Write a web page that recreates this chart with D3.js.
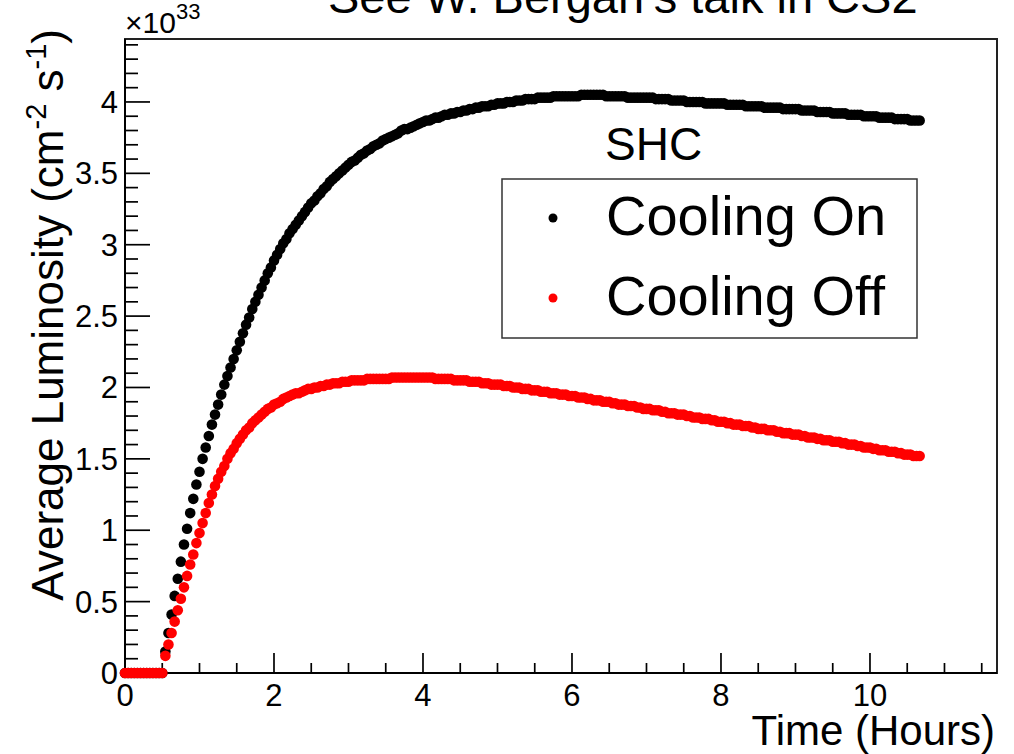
<!DOCTYPE html>
<html>
<head>
<meta charset="utf-8">
<script src="https://cdn.jsdelivr.net/npm/d3@7"></script>
<style>
  body { margin: 0; background: #fff; }
  svg { display: block; font-family: "Liberation Sans", Arial, Helvetica, sans-serif; }
</style>
</head>
<body>
<svg id="chart" width="1014" height="754"></svg>
<script>
// sampling: one point every 2.5 minutes, 0 .. 10h40
var stepHours = 2.5 / 60;

// Average luminosity, units of 1e33 cm^-2 s^-1
var coolingOn = [
  0, 0, 0, 0, 0, 0, 0, 0, 0, 0, 0, 0,
  0, 0.15, 0.28, 0.41, 0.54, 0.66, 0.78, 0.90, 1.01, 1.12, 1.22, 1.32,
  1.41, 1.50, 1.58, 1.66, 1.74, 1.81, 1.88, 1.95, 2.02, 2.08, 2.14, 2.20,
  2.26, 2.32, 2.38, 2.44, 2.49, 2.55, 2.60, 2.65, 2.70, 2.75, 2.80, 2.84,
  2.89, 2.93, 2.97, 3.01, 3.04, 3.08, 3.11, 3.14, 3.17, 3.20, 3.23, 3.26,
  3.29, 3.31, 3.34, 3.36, 3.39, 3.41, 3.44, 3.46, 3.48, 3.50, 3.52, 3.54,
  3.56, 3.58, 3.59, 3.61, 3.63, 3.64, 3.66, 3.67, 3.69, 3.70, 3.71, 3.73,
  3.74, 3.75, 3.76, 3.77, 3.78, 3.80, 3.81, 3.81, 3.82, 3.83, 3.84, 3.85,
  3.86, 3.87, 3.87, 3.88, 3.89, 3.89, 3.90, 3.91, 3.91, 3.92, 3.92, 3.93,
  3.93, 3.94, 3.94, 3.95, 3.95, 3.96, 3.96, 3.97, 3.97, 3.97, 3.98, 3.98,
  3.99, 3.99, 3.99, 4.00, 4.00, 4.00, 4.01, 4.01, 4.01, 4.02, 4.02, 4.02,
  4.02, 4.03, 4.03, 4.03, 4.03, 4.03, 4.04, 4.04, 4.04, 4.04, 4.04, 4.04,
  4.04, 4.04, 4.04, 4.05, 4.05, 4.05, 4.05, 4.05, 4.05, 4.05, 4.05, 4.04,
  4.04, 4.04, 4.04, 4.04, 4.04, 4.04, 4.03, 4.03, 4.03, 4.03, 4.03, 4.03,
  4.03, 4.03, 4.03, 4.02, 4.02, 4.02, 4.02, 4.02, 4.01, 4.01, 4.01, 4.01,
  4.01, 4.00, 4.00, 4.00, 4.00, 4.00, 4.00, 3.99, 3.99, 3.99, 3.99, 3.99,
  3.99, 3.99, 3.98, 3.98, 3.98, 3.98, 3.98, 3.98, 3.97, 3.97, 3.97, 3.97,
  3.97, 3.97, 3.96, 3.96, 3.96, 3.96, 3.96, 3.96, 3.95, 3.95, 3.95, 3.95,
  3.95, 3.95, 3.94, 3.94, 3.94, 3.94, 3.94, 3.93, 3.93, 3.93, 3.93, 3.93,
  3.92, 3.92, 3.92, 3.92, 3.92, 3.91, 3.91, 3.91, 3.91, 3.91, 3.90, 3.90,
  3.90, 3.90, 3.90, 3.89, 3.89, 3.89, 3.89, 3.89, 3.88, 3.88, 3.88, 3.88,
  3.88, 3.87, 3.87, 3.87, 3.87
];

var coolingOff = [
  0, 0, 0, 0, 0, 0, 0, 0, 0, 0, 0, 0,
  0, 0.12, 0.20, 0.28, 0.36, 0.44, 0.52, 0.60, 0.68, 0.76, 0.83, 0.91,
  0.98, 1.05, 1.12, 1.19, 1.25, 1.31, 1.36, 1.41, 1.45, 1.50, 1.54, 1.57,
  1.61, 1.64, 1.67, 1.70, 1.72, 1.75, 1.77, 1.79, 1.81, 1.83, 1.85, 1.86,
  1.88, 1.89, 1.90, 1.92, 1.93, 1.94, 1.95, 1.96, 1.96, 1.97, 1.98, 1.99,
  1.99, 2.00, 2.00, 2.01, 2.01, 2.02, 2.02, 2.03, 2.03, 2.03, 2.04, 2.04,
  2.04, 2.05, 2.05, 2.05, 2.05, 2.05, 2.06, 2.06, 2.06, 2.06, 2.06, 2.06,
  2.06, 2.06, 2.07, 2.07, 2.07, 2.07, 2.07, 2.07, 2.07, 2.07, 2.07, 2.07,
  2.07, 2.07, 2.07, 2.07, 2.06, 2.06, 2.06, 2.06, 2.06, 2.06, 2.05, 2.05,
  2.05, 2.05, 2.05, 2.04, 2.04, 2.04, 2.04, 2.03, 2.03, 2.03, 2.02, 2.02,
  2.02, 2.02, 2.01, 2.01, 2.01, 2.00, 2.00, 2.00, 1.99, 1.99, 1.99, 1.98,
  1.98, 1.98, 1.97, 1.97, 1.97, 1.96, 1.96, 1.96, 1.95, 1.95, 1.95, 1.94,
  1.94, 1.94, 1.93, 1.93, 1.93, 1.92, 1.92, 1.91, 1.91, 1.91, 1.90, 1.90,
  1.90, 1.89, 1.89, 1.88, 1.88, 1.88, 1.87, 1.87, 1.87, 1.86, 1.86, 1.85,
  1.85, 1.85, 1.84, 1.84, 1.84, 1.83, 1.83, 1.82, 1.82, 1.82, 1.81, 1.81,
  1.81, 1.80, 1.80, 1.79, 1.79, 1.79, 1.78, 1.78, 1.78, 1.77, 1.77, 1.76,
  1.76, 1.76, 1.75, 1.75, 1.74, 1.74, 1.74, 1.73, 1.73, 1.73, 1.72, 1.72,
  1.71, 1.71, 1.71, 1.70, 1.70, 1.70, 1.69, 1.69, 1.68, 1.68, 1.68, 1.67,
  1.67, 1.67, 1.66, 1.66, 1.65, 1.65, 1.65, 1.64, 1.64, 1.63, 1.63, 1.63,
  1.62, 1.62, 1.62, 1.61, 1.61, 1.60, 1.60, 1.60, 1.59, 1.59, 1.58, 1.58,
  1.58, 1.57, 1.57, 1.56, 1.56, 1.56, 1.55, 1.55, 1.55, 1.54, 1.54, 1.53,
  1.53, 1.53, 1.52, 1.52, 1.52
];

var xMajorTicks = [0, 2, 4, 6, 8, 10];
var xMinorTicks = [0.5, 1, 1.5, 2.5, 3, 3.5, 4.5, 5, 5.5, 6.5, 7, 7.5, 8.5, 9, 9.5, 10.5, 11, 11.5];
var yMajorTicks = [0, 0.5, 1, 1.5, 2, 2.5, 3, 3.5, 4];
var yMinorTicks = [0.1, 0.2, 0.3, 0.4, 0.6, 0.7, 0.8, 0.9, 1.1, 1.2, 1.3, 1.4, 1.6, 1.7, 1.8, 1.9,
                   2.1, 2.2, 2.3, 2.4, 2.6, 2.7, 2.8, 2.9, 3.1, 3.2, 3.3, 3.4, 3.6, 3.7, 3.8, 3.9,
                   4.1, 4.2, 4.3, 4.4];

var seriesNames = ["Cooling On", "Cooling Off"];
var seriesColors = ["#000000", "#ff0000"];

// frame in pixels
var frame = { left: 125, right: 997, top: 39, bottom: 673 };

var svg = d3.select("#chart");

var x = d3.scaleLinear()
  .domain([0, 11.705])
  .range([frame.left, frame.right]);

var y = d3.scaleLinear()
  .domain([0, 4.441])
  .range([frame.bottom, frame.top]);

// title, mostly cut off by the top of the picture
svg.append("text")
  .attr("x", 328)
  .attr("y", 13)
  .attr("font-size", 47)
  .text("See W. Bergan\u2019s talk in CS2");

// frame box
svg.append("rect")
  .attr("x", frame.left)
  .attr("y", frame.top)
  .attr("width", frame.right - frame.left)
  .attr("height", frame.bottom - frame.top)
  .attr("fill", "none")
  .attr("stroke", "#222")
  .attr("stroke-width", 2);

// ticks point into the frame, ROOT style
function tickLines(values, len, horizontal) {
  svg.append("g")
    .attr("stroke", "#000")
    .attr("stroke-width", 1.7)
    .selectAll("line")
    .data(values)
    .join("line")
    .attr("x1", function(d) { return horizontal ? x(d) : frame.left; })
    .attr("x2", function(d) { return horizontal ? x(d) : frame.left + len; })
    .attr("y1", function(d) { return horizontal ? frame.bottom : y(d); })
    .attr("y2", function(d) { return horizontal ? frame.bottom - len : y(d); });
}
tickLines(xMinorTicks, 10, true);
tickLines(xMajorTicks, 20, true);
tickLines(yMinorTicks, 13, false);
tickLines(yMajorTicks, 25, false);

// axis lines
svg.append("line")
  .attr("x1", frame.left).attr("x2", frame.right)
  .attr("y1", frame.bottom).attr("y2", frame.bottom)
  .attr("stroke", "#000").attr("stroke-width", 2);
svg.append("line")
  .attr("x1", frame.left).attr("x2", frame.left)
  .attr("y1", frame.top).attr("y2", frame.bottom)
  .attr("stroke", "#000").attr("stroke-width", 2);

// tick labels
svg.append("g")
  .attr("font-size", 31)
  .attr("text-anchor", "middle")
  .selectAll("text")
  .data(xMajorTicks)
  .join("text")
  .attr("x", function(d) { return x(d); })
  .attr("y", 706)
  .text(function(d) { return String(d); });

svg.append("g")
  .attr("font-size", 31)
  .attr("text-anchor", "end")
  .selectAll("text")
  .data(yMajorTicks)
  .join("text")
  .attr("x", 118)
  .attr("y", function(d) { return y(d) + 11; })
  .text(function(d) { return String(d); });

// exponent label
var expo = svg.append("text").attr("x", frame.left).attr("y", 33).attr("font-size", 30);
expo.append("tspan").text("\u00d710");
expo.append("tspan").attr("font-size", 22).attr("dy", -14).text("33");

// axis titles
svg.append("text")
  .attr("x", 995)
  .attr("y", 745)
  .attr("text-anchor", "end")
  .attr("font-size", 42)
  .text("Time (Hours)");

var ytitle = svg.append("text")
  .attr("transform", "translate(63,29) rotate(-90)")
  .attr("text-anchor", "end")
  .attr("font-size", 44);
ytitle.append("tspan").text("Average Luminosity (cm");
ytitle.append("tspan").attr("font-size", 29).attr("dy", -17).text("-2");
ytitle.append("tspan").attr("dy", 17).text(" s");
ytitle.append("tspan").attr("font-size", 29).attr("dy", -17).text("-1");
ytitle.append("tspan").attr("dy", 17).text(")");

// points
[coolingOn, coolingOff].forEach(function(values, k) {
  svg.append("g")
    .attr("fill", seriesColors[k])
    .selectAll("circle")
    .data(values)
    .join("circle")
    .attr("cx", function(d, i) { return x(i * stepHours); })
    .attr("cy", function(d) { return y(d); })
    .attr("r", 5.3);
});

// legend
svg.append("text")
  .attr("x", 605)
  .attr("y", 160)
  .attr("font-size", 46)
  .text("SHC");

svg.append("rect")
  .attr("x", 502)
  .attr("y", 179)
  .attr("width", 415)
  .attr("height", 159)
  .attr("fill", "#fff")
  .attr("stroke", "#333")
  .attr("stroke-width", 1.5);

var legendRows = [218, 298];
seriesNames.forEach(function(name, k) {
  svg.append("circle")
    .attr("cx", 553)
    .attr("cy", legendRows[k])
    .attr("r", 4.5)
    .attr("fill", seriesColors[k]);
  svg.append("text")
    .attr("x", 606)
    .attr("y", legendRows[k] + 17)
    .attr("font-size", 56)
    .text(name);
});
</script>
</body>
</html>
